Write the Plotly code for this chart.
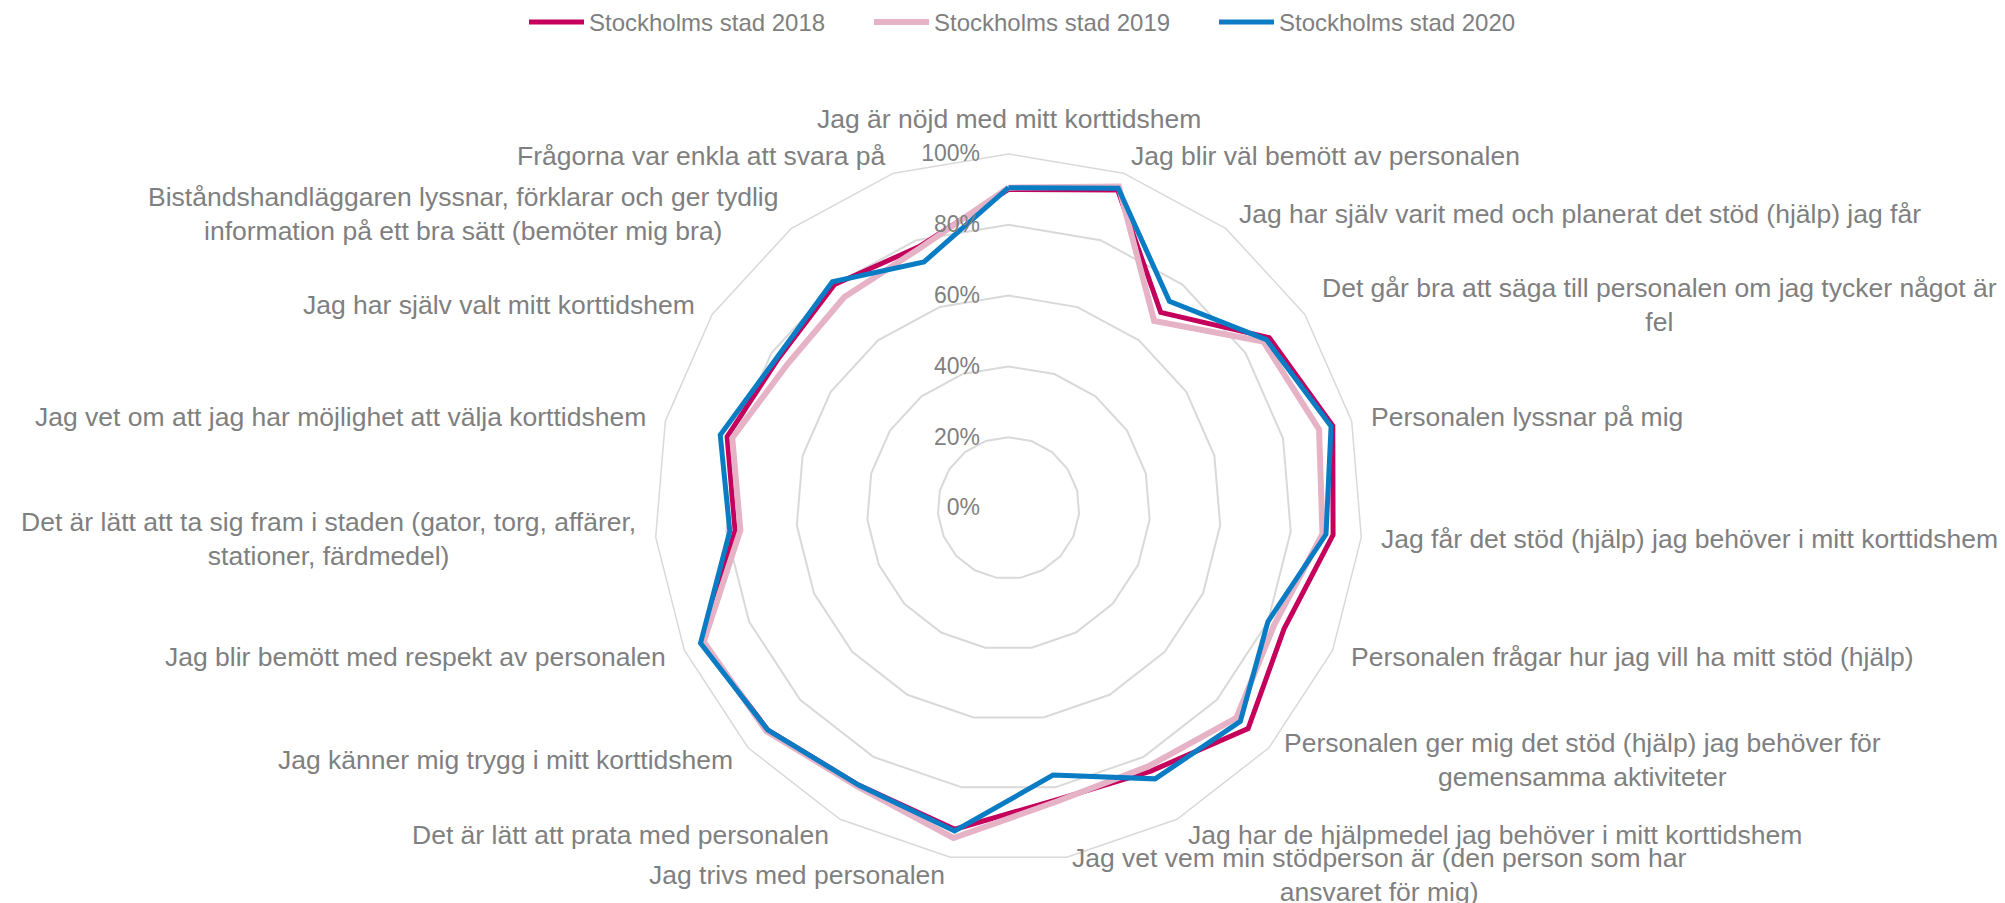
import math
import plotly.graph_objects as go

categories = [
    "Jag är nöjd med mitt korttidshem",
    "Jag blir väl bemött av personalen",
    "Jag har själv varit med och planerat det stöd (hjälp) jag får",
    "Det går bra att säga till personalen om jag tycker något är<br>fel",
    "Personalen lyssnar på mig",
    "Jag får det stöd (hjälp) jag behöver i mitt korttidshem",
    "Personalen frågar hur jag vill ha mitt stöd (hjälp)",
    "Personalen ger mig det stöd (hjälp) jag behöver för<br>gemensamma aktiviteter",
    "Jag har de hjälpmedel jag behöver i mitt korttidshem",
    "Jag vet vem min stödperson är (den person som har<br>ansvaret för mig)",
    "Jag trivs med personalen",
    "Det är lätt att prata med personalen",
    "Jag känner mig trygg i mitt korttidshem",
    "Jag blir bemött med respekt av personalen",
    "Det är lätt att ta sig fram i staden (gator, torg, affärer,<br>stationer, färdmedel)",
    "Jag vet om att jag har möjlighet att välja korttidshem",
    "Jag har själv valt mitt korttidshem",
    "Biståndshandläggaren lyssnar, förklarar och ger tydlig<br>information på ett bra sätt (bemöter mig bra)",
    "Frågorna var enkla att svara på",
]

series_names = ["Stockholms stad 2018", "Stockholms stad 2019", "Stockholms stad 2020"]

values_2018 = [0.90, 0.95, 0.70, 0.88, 0.945, 0.92, 0.85, 0.92, 0.845, 0.835,
               0.92, 0.89, 0.925, 0.945, 0.775, 0.82, 0.775, 0.80, 0.78]
values_2019 = [0.905, 0.96, 0.67, 0.86, 0.905, 0.89, 0.82, 0.875, 0.83, 0.84,
               0.945, 0.895, 0.93, 0.94, 0.76, 0.805, 0.745, 0.755, 0.775]
values_2020 = [0.905, 0.955, 0.74, 0.87, 0.94, 0.90, 0.80, 0.89, 0.87, 0.765,
               0.925, 0.89, 0.925, 0.95, 0.79, 0.84, 0.78, 0.81, 0.735]

radial_ticks = [0, 0.2, 0.4, 0.6, 0.8, 1.0]

colors = ["#C4005C", "#E6B2C6", "#0A7CC4"]
widths = [5, 6, 5]

FONT = "Liberation Sans, Arial, sans-serif"
GRAY = "#7f7f7f"
GRID = "#d9d9d9"

fig = go.Figure()
for name, vals, col, w in zip(series_names, [values_2018, values_2019, values_2020], colors, widths):
    fig.add_trace(go.Scatterpolar(
        r=vals + vals[:1],
        theta=categories + categories[:1],
        mode="lines",
        name=name,
        line=dict(color=col, width=w),
    ))

W, H = 2005, 903
cx, cy, R = 1008.5, 508, 354
LABEL_GAP = 18

# category labels placed around the polygon (Excel-like centred multi-line text)
n = len(categories)
annotations = []
for k, cat in enumerate(categories):
    th = math.radians(90 - k * 360 / n)
    c, s = math.cos(th), math.sin(th)
    px = cx + (R + LABEL_GAP) * c
    py = cy - (R + LABEL_GAP) * s
    if abs(c) < 0.01:
        xa = "center"
    elif c > 0:
        xa = "left"
    else:
        xa = "right"
    ya = "bottom" if k == 0 else "middle"
    annotations.append(dict(
        x=px / W, y=1 - py / H, xref="paper", yref="paper",
        text=cat, showarrow=False, xanchor=xa, yanchor=ya, align="center",
        font=dict(size=26.5, color=GRAY, family=FONT),
    ))

fig.update_layout(
    width=W, height=H,
    margin=dict(l=0, r=0, t=0, b=0),
    paper_bgcolor="white",
    plot_bgcolor="white",
    font=dict(family=FONT, color=GRAY, size=24),
    showlegend=True,
    annotations=annotations,
    legend=dict(
        orientation="h",
        x=524 / W, xanchor="left",
        y=1.0, yanchor="top",
        font=dict(size=24, color=GRAY, family=FONT),
        itemwidth=55,
        entrywidth=275,
        entrywidthmode="pixels",
        bgcolor="rgba(0,0,0,0)",
    ),
    polar=dict(
        domain=dict(x=[(cx - R) / W, (cx + R) / W], y=[(H - cy - R) / H, (H - cy + R) / H]),
        bgcolor="white",
        gridshape="linear",
        angularaxis=dict(
            type="category",
            categoryorder="array",
            categoryarray=categories,
            direction="clockwise",
            rotation=90,
            showgrid=False,
            showline=True,
            linecolor=GRID,
            linewidth=1.5,
            showticklabels=False,
            ticks="",
        ),
        radialaxis=dict(
            range=[0, 1],
            tickvals=radial_ticks,
            tickformat=".0%",
            angle=90,
            tickangle=90,
            side="counterclockwise",
            showline=False,
            showgrid=True,
            gridcolor=GRID,
            gridwidth=1.5,
            ticks="outside",
            ticklen=20,
            tickcolor="rgba(0,0,0,0)",
            tickfont=dict(size=23, color=GRAY, family=FONT),
        ),
    ),
)

fig.write_html(
    "out.html",
    config={"displayModeBar": False},
    post_script="document.body.style.margin='0';document.body.style.overflow='hidden';",
)
